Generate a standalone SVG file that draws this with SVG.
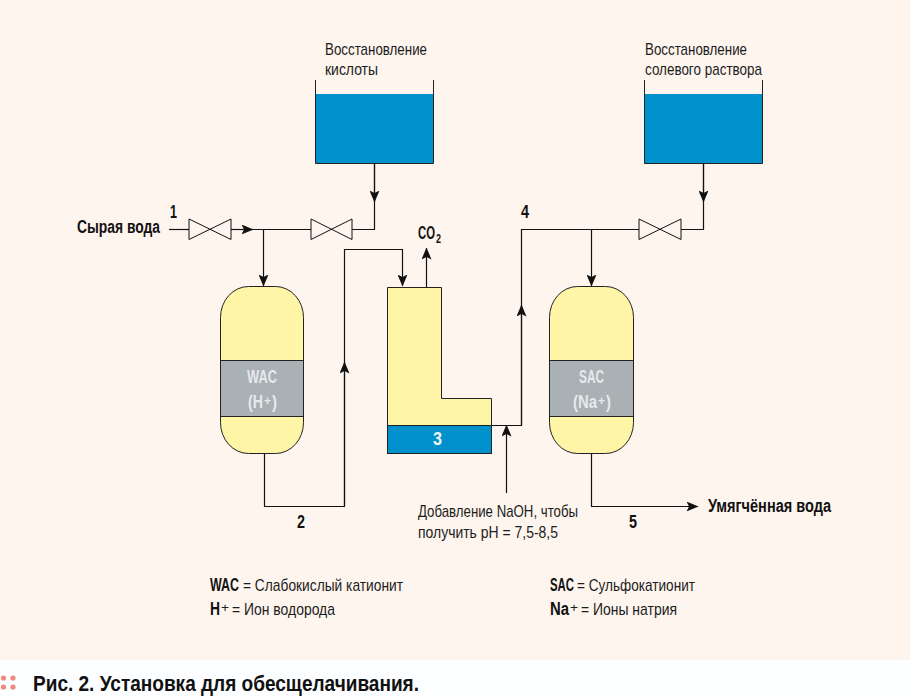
<svg xmlns="http://www.w3.org/2000/svg" width="910" height="698" viewBox="0 0 910 698">
<defs>
<marker id="a" viewBox="0 0 12 10" markerWidth="12" markerHeight="10" refX="11.5" refY="5" orient="auto" markerUnits="userSpaceOnUse"><path d="M0 0L12 5L0 10L2.5 5Z" fill="#111"/></marker>
</defs>
<style>
text{font-family:"Liberation Sans",sans-serif;fill:#1c1c1c;font-size:17px}
.b{font-weight:700;fill:#111;font-size:18px}
.w{font-weight:700;fill:#e6e9eb;font-size:18px}
.s{font-size:12px}
.l{fill:none;stroke:#111;stroke-width:1.2}
.v{fill:#fef5ee;stroke:#111;stroke-width:1}
.y{fill:#fff5a6;stroke:#222;stroke-width:1}
.g{fill:#a9b1b5;stroke:#222;stroke-width:1}
.t{fill:#0090cb;stroke:#222;stroke-width:1}
</style>
<rect width="910" height="698" fill="#fdfeff"/>
<rect width="910" height="660" fill="#fef5ee"/>
<g id="connectors">
<path class="l" d="M169 229.500H189"/>
<path class="l" d="M231 229.500H253" marker-end="url(#a)"/>
<path class="l" d="M250 229.500H311"/>
<path class="l" d="M263.500 229.500V286" marker-end="url(#a)"/>
<path class="l" d="M352 229.500H374.500V163"/>
<path class="l" d="M374.500 163V202" marker-end="url(#a)"/>
<path class="l" d="M264.500 453V506.500H344.500V249.500H402.500V286" marker-end="url(#a)"/>
<path class="l" d="M344.500 506V362" marker-end="url(#a)"/>
<path class="l" d="M426.500 287V248" marker-end="url(#a)"/>
<path class="l" d="M491 425.500H521.500V229.500H639"/>
<path class="l" d="M521.500 425V305" marker-end="url(#a)"/>
<path class="l" d="M506.500 493V425" marker-end="url(#a)"/>
<path class="l" d="M591.500 229V286" marker-end="url(#a)"/>
<path class="l" d="M681 229.500H703.500V163"/>
<path class="l" d="M703.500 163V202" marker-end="url(#a)"/>
<path class="l" d="M591.500 453V506.500H698" marker-end="url(#a)"/>
</g>
<g id="valve1"><path class="v" d="M189 219L231 239.500V219L189 239.500Z"/></g>
<g id="valve2"><path class="v" d="M311 219L352 239.500V219L311 239.500Z"/></g>
<g id="valve3"><path class="v" d="M639 219L681 239.500V219L639 239.500Z"/></g>
<g id="tank-acid"><rect x="315.500" y="94" width="118" height="69" fill="#0090cb"/><path d="M315.500 80V163.500H433.500V80" fill="none" stroke="#222" stroke-width="1"/></g>
<g id="tank-brine"><rect x="644.500" y="94" width="118" height="69" fill="#0090cb"/><path d="M644.500 80V163.500H762.500V80" fill="none" stroke="#222" stroke-width="1"/></g>
<g id="wac">
<rect class="y" x="220.500" y="286.500" width="83" height="167" rx="28" ry="31"/>
<rect class="g" x="220.500" y="360.500" width="83" height="56"/>
<text class="w" x="247" y="383" textLength="30" lengthAdjust="spacingAndGlyphs">WAC</text>
<text class="w" x="248" y="408" textLength="15" lengthAdjust="spacingAndGlyphs">(H</text>
<text class="w s" x="264" y="405" textLength="7" lengthAdjust="spacingAndGlyphs">+</text>
<text class="w" x="272" y="408" textLength="5" lengthAdjust="spacingAndGlyphs">)</text>
</g>
<g id="sac">
<rect class="y" x="549.500" y="286.500" width="84" height="167" rx="28" ry="31"/>
<rect class="g" x="549.500" y="360.500" width="84" height="56"/>
<text class="w" x="579" y="383" textLength="25" lengthAdjust="spacingAndGlyphs">SAC</text>
<text class="w" x="573" y="408" textLength="24" lengthAdjust="spacingAndGlyphs">(Na</text>
<text class="w s" x="598" y="405" textLength="7" lengthAdjust="spacingAndGlyphs">+</text>
<text class="w" x="606" y="408" textLength="5" lengthAdjust="spacingAndGlyphs">)</text>
</g>
<g id="degasser">
<path class="y" d="M387.500 287.500H441.500V398.500H491.500V425.500H387.500Z"/>
<rect class="t" x="387.500" y="425.500" width="104" height="28"/>
<text class="w" x="433" y="445" textLength="9" lengthAdjust="spacingAndGlyphs" style="fill:#f2f5f6">3</text>
</g>
<g id="labels">
<text x="325" y="55" textLength="102" lengthAdjust="spacingAndGlyphs">Восстановление</text>
<text x="325" y="75" textLength="53" lengthAdjust="spacingAndGlyphs">кислоты</text>
<text x="645" y="55" textLength="102" lengthAdjust="spacingAndGlyphs">Восстановление</text>
<text x="645" y="75" textLength="117" lengthAdjust="spacingAndGlyphs">солевого раствора</text>
<text class="b" x="77" y="233" textLength="83" lengthAdjust="spacingAndGlyphs">Сырая вода</text>
<text class="b" x="170" y="218" textLength="7" lengthAdjust="spacingAndGlyphs">1</text>
<text class="b" x="521" y="218" textLength="8" lengthAdjust="spacingAndGlyphs">4</text>
<text class="b" x="297" y="528" textLength="8" lengthAdjust="spacingAndGlyphs">2</text>
<text class="b" x="629" y="528" textLength="8" lengthAdjust="spacingAndGlyphs">5</text>
<text class="b" x="418" y="239" textLength="17" lengthAdjust="spacingAndGlyphs">CO</text>
<text class="b s" x="436" y="243" textLength="5" lengthAdjust="spacingAndGlyphs">2</text>
<text class="b" x="708" y="512" textLength="123" lengthAdjust="spacingAndGlyphs">Умягчённая вода</text>
<text x="418" y="517" textLength="160" lengthAdjust="spacingAndGlyphs">Добавление NaOH, чтобы</text>
<text x="418" y="538" textLength="140" lengthAdjust="spacingAndGlyphs">получить pH = 7,5-8,5</text>
<text class="b" x="210" y="591" textLength="29" lengthAdjust="spacingAndGlyphs">WAC</text>
<text x="243" y="591" textLength="160" lengthAdjust="spacingAndGlyphs">= Слабокислый катионит</text>
<text class="b" x="210" y="615" textLength="10" lengthAdjust="spacingAndGlyphs">H</text>
<text class="s" x="221" y="612" textLength="8" lengthAdjust="spacingAndGlyphs">+</text>
<text x="232" y="615" textLength="103" lengthAdjust="spacingAndGlyphs">= Ион водорода</text>
<text class="b" x="550" y="591" textLength="24" lengthAdjust="spacingAndGlyphs">SAC</text>
<text x="577" y="591" textLength="118" lengthAdjust="spacingAndGlyphs">= Сульфокатионит</text>
<text class="b" x="550" y="615" textLength="19" lengthAdjust="spacingAndGlyphs">Na</text>
<text class="s" x="570" y="612" textLength="8" lengthAdjust="spacingAndGlyphs">+</text>
<text x="581" y="615" textLength="96" lengthAdjust="spacingAndGlyphs">= Ионы натрия</text>
</g>
<g id="caption">
<g fill="#ef8a7c"><circle cx="3.500" cy="678" r="2.600"/><circle cx="13" cy="678" r="2.600"/><circle cx="3.500" cy="687" r="2.600"/><circle cx="13" cy="687" r="2.600"/></g>
<text class="b" x="33" y="691" style="font-size:22px" textLength="386" lengthAdjust="spacingAndGlyphs">Рис. 2. Установка для обесщелачивания.</text>
</g>
</svg>
